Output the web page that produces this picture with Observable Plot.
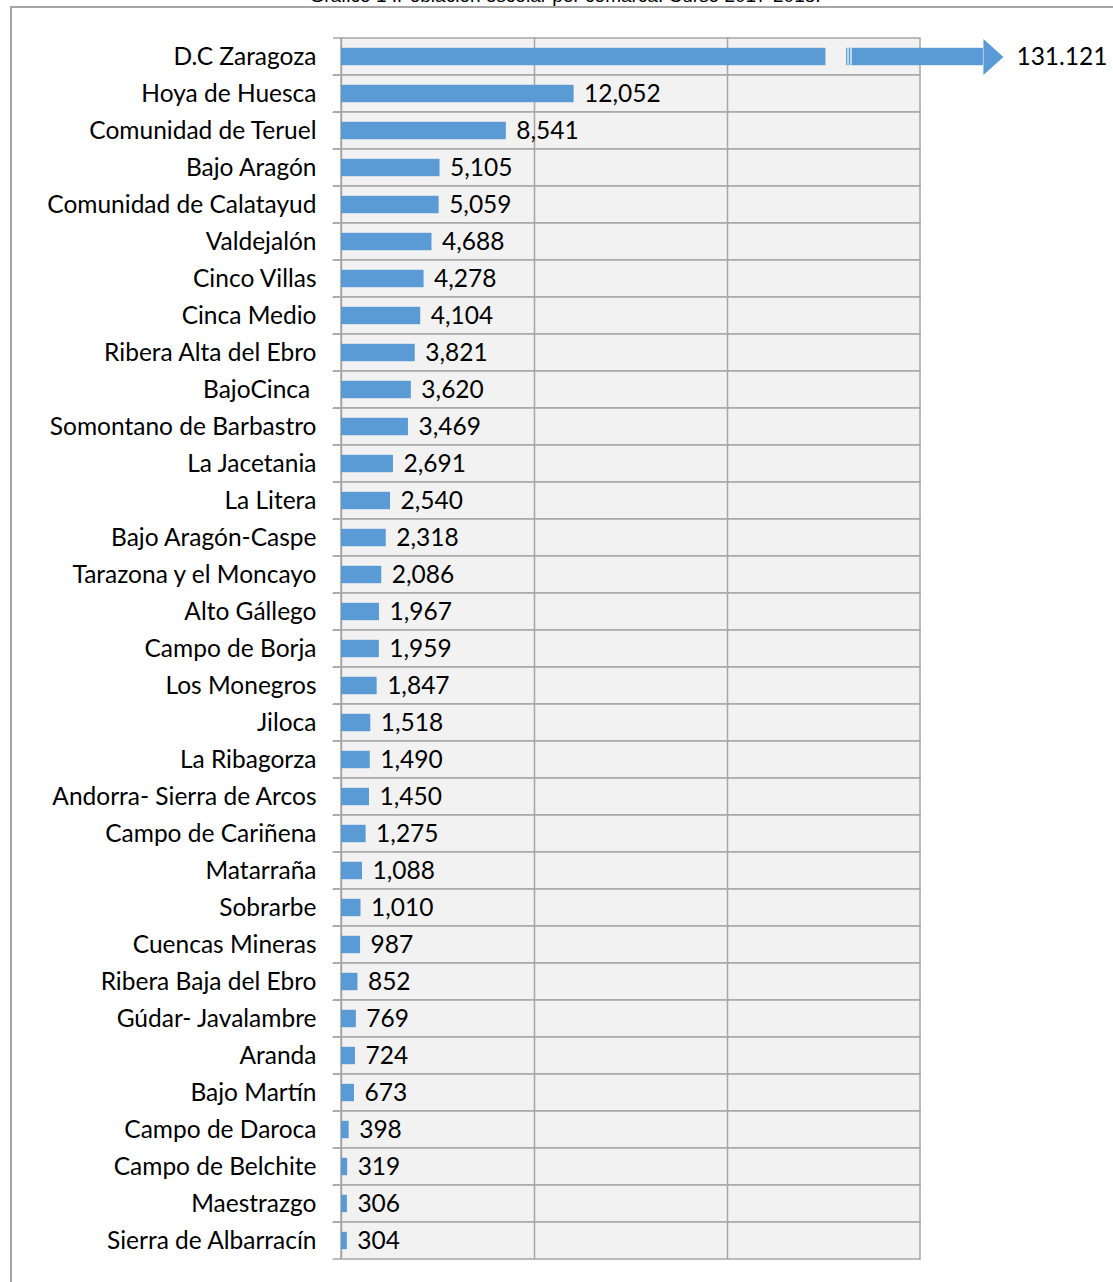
<!DOCTYPE html>
<html>
<head>
<meta charset="utf-8">
<script src="https://cdn.jsdelivr.net/npm/d3@7"></script>
<script src="https://cdn.jsdelivr.net/npm/@observablehq/plot@0.6"></script>
<style>
  html, body { margin: 0; padding: 0; background: #fff; width: 1113px; height: 1282px; overflow: hidden; }
  #wrap { position: relative; width: 1113px; height: 1282px; }
  #title { position: absolute; left: 0; width: 1130px; top: -14px; text-align: center;
           font-family: "Liberation Sans", Arial, sans-serif; font-size: 19px; line-height: 19px; color: #000; }
  #border { position: absolute; left: 10px; top: 6px; width: 1200px; height: 1400px;
            border-left: 2px solid #a6a6a6; border-top: 2px solid #a6a6a6; box-sizing: border-box; }
  #chart { position: absolute; left: 0; top: 0; }
</style>
</head>
<body>
<div id="wrap">
  <div id="border"></div>
  <div id="title">Gráfico 1 .Población escolar por comarca. Curso 2017-2018.</div>
  <div id="chart"></div>
</div>
<script>
const names = [
  "D.C Zaragoza", "Hoya de Huesca", "Comunidad de Teruel", "Bajo Aragón", "Comunidad de Calatayud",
  "Valdejalón", "Cinco Villas", "Cinca Medio", "Ribera Alta del Ebro", "BajoCinca\u00a0",
  "Somontano de Barbastro", "La Jacetania", "La Litera", "Bajo Aragón-Caspe", "Tarazona y el Moncayo",
  "Alto Gállego", "Campo de Borja", "Los Monegros", "Jiloca", "La Ribagorza",
  "Andorra- Sierra de Arcos", "Campo de Cariñena", "Matarraña", "Sobrarbe", "Cuencas Mineras",
  "Ribera Baja del Ebro", "Gúdar- Javalambre", "Aranda", "Bajo Martín", "Campo de Daroca",
  "Campo de Belchite", "Maestrazgo", "Sierra de Albarracín"
];
const values = [
  131121, 12052, 8541, 5105, 5059,
  4688, 4278, 4104, 3821, 3620,
  3469, 2691, 2540, 2318, 2086,
  1967, 1959, 1847, 1518, 1490,
  1450, 1275, 1088, 1010, 987,
  852, 769, 724, 673, 398,
  319, 306, 304
];
const labels = [
  "131.121", "12,052", "8,541", "5,105", "5,059",
  "4,688", "4,278", "4,104", "3,821", "3,620",
  "3,469", "2,691", "2,540", "2,318", "2,086",
  "1,967", "1,959", "1,847", "1,518", "1,490",
  "1,450", "1,275", "1,088", "1,010", "987",
  "852", "769", "724", "673", "398",
  "319", "306", "304"
];
const gridTicks = [0, 10000, 20000, 30000];

// axis break decoration for the out-of-range bar
const axisMax = 30000;
const breakAt = 25100;
const resumeAt = 26170;
const breakLines = [26244, 26399];
const arrowBase = 33260;

const data = names.map((name, i) => ({name, value: values[i], label: labels[i]}));
const normal = data.filter(d => d.value <= axisMax);
const broken = data.filter(d => d.value > axisMax);

const blue = "#5b9bd5";
const grid = "#a6a6a6";
const W = 1113, H = 1282, mT = 37, mB = 23;
const bandH = (H - mT - mB) / names.length;
const inset = 9.8;
const fs = 24.5;

const arrowHead = {
  draw(context) {
    context.moveTo(0, -18);
    context.lineTo(20, 0);
    context.lineTo(0, 18);
    context.closePath();
  }
};

const chart = Plot.plot({
  width: W,
  height: H,
  marginLeft: 341,
  marginRight: 193,
  marginTop: mT,
  marginBottom: mB,
  style: {background: "transparent", fontFamily: "Lato, 'Open Sans', sans-serif", fontSize: fs + "px", color: "#000"},
  x: {domain: [0, axisMax], axis: null},
  y: {domain: names, padding: 0, axis: null, label: null},
  marks: [
    Plot.barX(data, {x1: 0, x2: axisMax, y: "name", fill: "#f2f2f2", stroke: grid, strokeWidth: 1.5}),
    Plot.ruleX(gridTicks.slice(1, -1), {stroke: grid, strokeWidth: 1.5}),
    Plot.barX(data, {x1: 0, x2: 0, y: "name", insetLeft: -8, fill: "none", stroke: grid, strokeWidth: 1.5,
      strokeDasharray: `8 ${bandH}`}),
    Plot.ruleX([0], {stroke: grid, strokeWidth: 1.5}),
    Plot.axisY({tickSize: 0, tickPadding: 25, fontSize: fs, fill: "#000", label: null}),
    Plot.barX(data, {x1: 0, x2: d => Math.min(d.value, breakAt), y: "name", fill: blue, insetTop: inset, insetBottom: inset}),
    Plot.barX(broken, {x1: resumeAt, x2: arrowBase, y: "name", fill: blue, insetTop: inset, insetBottom: inset}),
    Plot.tickX(broken.flatMap(d => breakLines.map(b => ({...d, b}))), {x: "b", y: "name", stroke: "#ffffff", strokeWidth: 1.2, insetTop: inset, insetBottom: inset}),
    Plot.dot(broken, {x: arrowBase, y: "name", symbol: arrowHead, fill: blue, stroke: null}),
    Plot.text(normal, {x: "value", y: "name", text: "label", textAnchor: "start", dx: 10, fontSize: fs, fill: "#000"}),
    Plot.text(broken, {x: arrowBase, y: "name", text: "label", textAnchor: "start", dx: 33, fontSize: fs, fill: "#000"})
  ]
});
document.getElementById("chart").appendChild(chart);
</script>
</body>
</html>
